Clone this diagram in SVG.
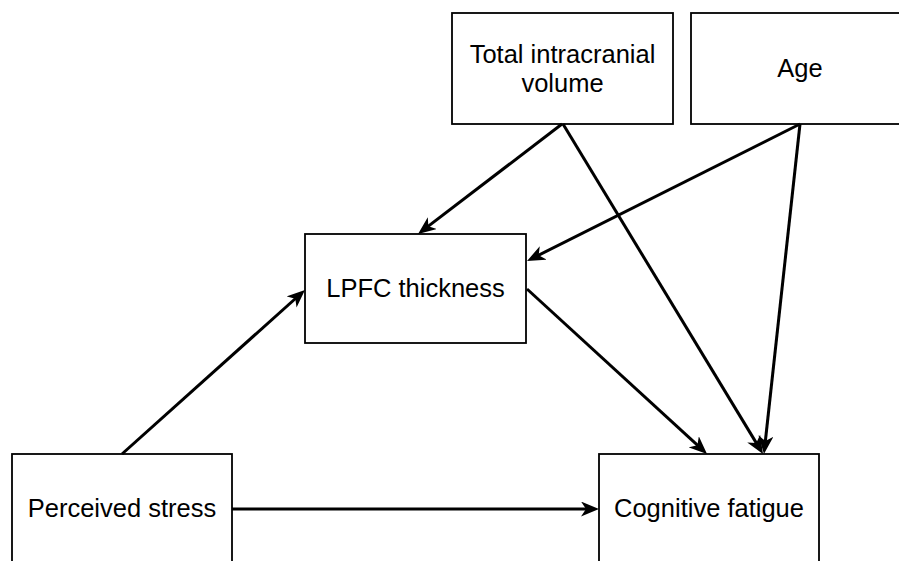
<svg xmlns="http://www.w3.org/2000/svg" width="899" height="561" viewBox="0 0 899 561">
  <style>
    .box { fill: #ffffff; stroke: #000000; stroke-width: 1.8; }
    .lbl { font-family: "Liberation Sans", Arial, Helvetica, sans-serif; font-size: 25.5px; fill: #000000; text-anchor: middle; }
    .edge { fill: none; stroke: #000000; stroke-width: 3; }
  </style>
  <defs>
    <marker id="arrow" markerUnits="userSpaceOnUse" viewBox="0 0 18 15" refX="12" refY="7.5" markerWidth="18" markerHeight="15" orient="auto">
      <path d="M0,0 L18,7.5 L0,15 L5,7.5 z" fill="#000000"/>
    </marker>
  </defs>
  <rect width="899" height="561" fill="#ffffff"/>
  <g id="node-tiv">
    <rect class="box" x="452" y="13" width="221" height="111"/>
    <text class="lbl" x="562.5" y="63">Total intracranial</text>
    <text class="lbl" x="562.5" y="92">volume</text>
  </g>
  <g id="node-age">
    <rect class="box" x="691" y="13" width="221" height="111"/>
    <text class="lbl" x="800" y="77">Age</text>
  </g>
  <g id="node-lpfc">
    <rect class="box" x="305" y="234" width="221" height="109"/>
    <text class="lbl" x="415.5" y="297">LPFC thickness</text>
  </g>
  <g id="node-stress">
    <rect class="box" x="12" y="454" width="220" height="110"/>
    <text class="lbl" x="122" y="517">Perceived stress</text>
  </g>
  <g id="node-fatigue">
    <rect class="box" x="599" y="454" width="220" height="110"/>
    <text class="lbl" x="709" y="517">Cognitive fatigue</text>
  </g>
  <g id="connectors">
    <line class="edge" x1="562" y1="124" x2="422.8" y2="230.4" marker-end="url(#arrow)"/>
    <line class="edge" x1="563" y1="124" x2="759.9" y2="448.9" marker-end="url(#arrow)"/>
    <line class="edge" x1="800" y1="124" x2="532.4" y2="258.3" marker-end="url(#arrow)"/>
    <line class="edge" x1="800" y1="124" x2="764.6" y2="448" marker-end="url(#arrow)"/>
    <line class="edge" x1="527" y1="289" x2="702.6" y2="449.9" marker-end="url(#arrow)"/>
    <line class="edge" x1="122" y1="454" x2="300.5" y2="294" marker-end="url(#arrow)"/>
    <line class="edge" x1="232" y1="509" x2="593" y2="509" marker-end="url(#arrow)"/>
  </g>
</svg>
